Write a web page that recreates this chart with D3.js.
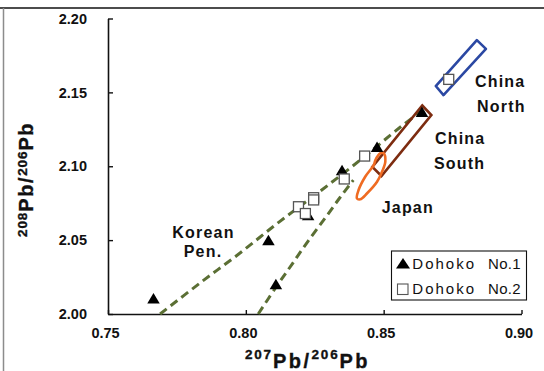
<!DOCTYPE html>
<html>
<head>
<meta charset="utf-8">
<script src="https://cdn.jsdelivr.net/npm/d3@7"></script>
<style>
  html, body { margin: 0; padding: 0; background: #fff; }
  svg { display: block; }
  text { font-family: "Liberation Sans", Arial, Helvetica, sans-serif; }
</style>
</head>
<body>
<svg id="chart" width="544" height="371"></svg>
<script>
// ---- Data -----------------------------------------------------------
const xTicks = [0.75, 0.80, 0.85, 0.90];
const yTicks = [2.00, 2.05, 2.10, 2.15, 2.20];

// Dohoko No.1 (filled triangles)
const no1X = [0.7665, 0.8082, 0.8109, 0.8226, 0.8349, 0.8476, 0.8639];
const no1Y = [2.0106, 2.0501, 2.0203, 2.0670, 2.0975, 2.1132, 2.1369];

// Dohoko No.2 (open squares)
const no2X = [0.8431, 0.8357, 0.8191, 0.8246, 0.8246, 0.8216, 0.8736];
const no2Y = [2.1069, 2.0914, 2.0726, 2.0787, 2.0772, 2.0680, 2.1588];

// Source-region outlines
const chinaNorthX = [0.8689, 0.8717, 0.8871, 0.8838];
const chinaNorthY = [2.1543, 2.1482, 2.1794, 2.1854];
const chinaSouthX = [0.8640, 0.8673, 0.8492, 0.8459];
const chinaSouthY = [2.1411, 2.1347, 2.0934, 2.0995];
const japanX = [0.8464, 0.8433, 0.8409, 0.8403, 0.8415, 0.8440, 0.8476, 0.8494, 0.8506, 0.8500, 0.8488, 0.8470];
const japanY = [2.1008, 2.0929, 2.0839, 2.0783, 2.0776, 2.0817, 2.0895, 2.0963, 2.1031, 2.1088, 2.1088, 2.1042];

// Korean Peninsula envelope (two dashed boundaries)
const koreaUpperX = [0.7689, 0.7834, 0.7979, 0.8125, 0.8270, 0.8415, 0.8561, 0.8633];
const koreaUpperY = [2.0000, 2.0210, 2.0413, 2.0629, 2.0832, 2.1042, 2.1266, 2.1367];
const koreaLowerX = [0.8045, 0.8110, 0.8168, 0.8226, 0.8288, 0.8343, 0.8390];
const koreaLowerY = [2.0000, 2.0183, 2.0338, 2.0494, 2.0650, 2.0792, 2.0906];

const seriesNames = ["Dohoko No.1", "Dohoko No.2"];

// ---- Layout ---------------------------------------------------------
const svg = d3.select("#chart");
const x = d3.scaleLinear().domain([0.75, 0.90]).range([108, 521.5]);
const y = d3.scaleLinear().domain([2.00, 2.20]).range([314, 18.5]);
const zip = (xs, ys) => xs.map((v, i) => [v, ys[i]]);

const line = d3.line().x(d => x(d[0])).y(d => y(d[1]));

// outer frame
svg.append("line").attr("x1", 0).attr("x2", 544).attr("y1", 8).attr("y2", 8)
  .attr("stroke", "#111").attr("stroke-width", 1.5);
svg.append("line").attr("x1", 3.5).attr("x2", 3.5).attr("y1", 8).attr("y2", 371)
  .attr("stroke", "#8c8c8c").attr("stroke-width", 1.5);

// axes
const fmt = d3.format(".2f");
const yAxis = svg.append("g").attr("transform", "translate(108,0)")
  .call(d3.axisLeft(y).tickValues(yTicks).tickFormat(fmt)
    .tickSizeInner(-5).tickSizeOuter(0).tickPadding(21));
const xAxis = svg.append("g").attr("transform", "translate(0,314)")
  .call(d3.axisBottom(x).tickValues(xTicks).tickFormat(fmt)
    .tickSizeInner(-4).tickSizeOuter(0).tickPadding(13.5));

[yAxis, xAxis].forEach(g => {
  g.select(".domain").attr("stroke", "#111").attr("stroke-width", 1.6);
  g.selectAll(".tick line").attr("stroke", "#111").attr("stroke-width", 1.4);
  g.selectAll(".tick text")
    .attr("font-family", "'Liberation Sans', Arial, sans-serif")
    .attr("font-size", 14.5).attr("font-weight", "bold").attr("fill", "#111");
});
xAxis.selectAll(".tick text").attr("dx", -3);

// axis titles with isotope superscripts
function isoTitle(g, parts, ls, supShift) {
  const t = g.append("text").attr("font-weight", "bold").attr("fill", "#111")
    .attr("stroke", "#111").attr("stroke-width", 0.35);
  parts.forEach(([s, sup], i) => {
    const prevSup = i > 0 && parts[i - 1][1];
    let dy = 0;
    if (sup && !prevSup) dy = -supShift;
    if (!sup && prevSup) dy = supShift;
    t.append("tspan").text(s)
      .attr("font-size", sup ? 13.5 : 20)
      .attr("letter-spacing", sup ? ls - 0.7 : ls)
      .attr("dy", dy);
  });
  return t;
}
const titleParts = [["207", true], ["Pb", false], ["/", false], ["206", true], ["Pb", false]];
isoTitle(svg.append("g").attr("transform", "translate(245,368.3)"), titleParts, 2.5, 9);

const yTitleParts = [["208", true], ["Pb", false], ["/", false], ["206", true], ["Pb", false]];
isoTitle(svg.append("g").attr("transform", "translate(33.3,237) rotate(-90)"), yTitleParts, 1.6, 6);

// Korean Peninsula envelope
const env = svg.append("g").attr("fill", "none").attr("stroke", "#5b6f34")
  .attr("stroke-width", 3).attr("stroke-dasharray", "8.5,5");
const smooth = d3.line().x(d => x(d[0])).y(d => y(d[1])).curve(d3.curveCatmullRom);
env.append("path").attr("d", smooth(zip(koreaUpperX, koreaUpperY)));
env.append("path").attr("d", smooth(zip(koreaLowerX, koreaLowerY)));

// region outlines
svg.append("path").attr("d", line(zip(chinaNorthX, chinaNorthY)) + "Z")
  .attr("fill", "none").attr("stroke", "#2b48a3").attr("stroke-width", 2.6)
  .attr("stroke-linejoin", "round");
svg.append("path").attr("d", line(zip(chinaSouthX, chinaSouthY)) + "Z")
  .attr("fill", "none").attr("stroke", "#7d2c10").attr("stroke-width", 2.6)
  .attr("stroke-linejoin", "miter");
svg.append("path")
  .attr("d", d3.line().x(d => x(d[0])).y(d => y(d[1])).curve(d3.curveCatmullRomClosed)(zip(japanX, japanY)))
  .attr("fill", "none").attr("stroke", "#ef6b22").attr("stroke-width", 2.6);

// markers
const triPath = (w, h) => `M0,${-h / 2}L${w / 2},${h / 2}L${-w / 2},${h / 2}Z`;
svg.append("g").selectAll("path").data(zip(no1X, no1Y)).join("path")
  .attr("transform", d => `translate(${x(d[0])},${y(d[1])})`)
  .attr("d", triPath(12.5, 10.5)).attr("fill", "#000");

svg.append("g").selectAll("rect").data(zip(no2X, no2Y)).join("rect")
  .attr("x", d => x(d[0]) - 5).attr("y", d => y(d[1]) - 5)
  .attr("width", 10).attr("height", 10)
  .attr("fill", "#fff").attr("stroke", "#555").attr("stroke-width", 1.3);

// region labels
const labelLines = [
  ["China", 475, 87], ["North", 477, 111.7],
  ["China", 435, 144], ["South", 434, 169.3],
  ["Japan", 381.7, 213.3],
  ["Korean", 203.5, 238.3, "middle"], ["Pen.", 203, 256.7, "middle"]
];
svg.append("g").selectAll("text").data(labelLines).join("text")
  .attr("x", d => d[1]).attr("y", d => d[2])
  .attr("text-anchor", d => d[3] || "start")
  .attr("font-size", 16).attr("font-weight", "bold")
  .attr("letter-spacing", 1.2).attr("fill", "#111")
  .text(d => d[0]);

// legend
const lg = svg.append("g");
lg.append("rect").attr("x", 391.5).attr("y", 251).attr("width", 135).attr("height", 49)
  .attr("fill", "#fff").attr("stroke", "#111").attr("stroke-width", 1.1);
lg.append("path").attr("transform", "translate(403,263.3)")
  .attr("d", triPath(14, 10.5)).attr("fill", "#000");
lg.append("rect").attr("x", 397.5).attr("y", 284).attr("width", 10.5).attr("height", 10.5)
  .attr("fill", "#fff").attr("stroke", "#555").attr("stroke-width", 1.1);
seriesNames.forEach((name, i) => {
  const [w1, w2] = name.split(" ");
  const yy = 269.3 + i * 25;
  lg.append("text").attr("x", 412.3).attr("y", yy).attr("font-size", 15)
    .attr("letter-spacing", 2).attr("fill", "#111").text(w1);
  lg.append("text").attr("x", 488).attr("y", yy).attr("font-size", 15)
    .attr("letter-spacing", 0.3).attr("fill", "#111").text(w2);
});
</script>
</body>
</html>
